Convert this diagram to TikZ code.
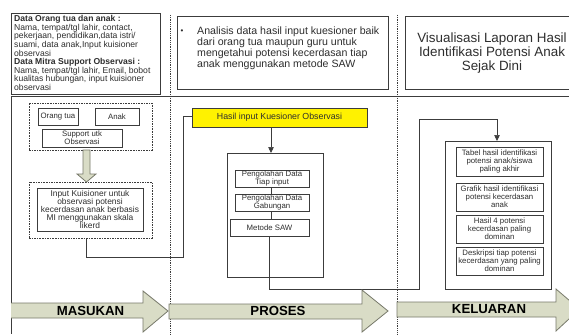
\documentclass[tikz,border=0pt]{standalone}
\usepackage{fontspec}
\setmainfont{Liberation Sans}
\usetikzlibrary{arrows.meta}
\definecolor{ln}{HTML}{3C3C3C}
\definecolor{tx}{HTML}{2E2E2E}
\definecolor{olive}{HTML}{D9DCC6}
\definecolor{oliveln}{HTML}{77796A}
\tikzset{
  bx/.style={draw=ln,line width=0.7pt,inner sep=0pt,outer sep=0pt,align=center,text=tx,font=\fontsize{7.8}{8.2}\selectfont},
  bigbx/.style={bx,font=\fontsize{8.4}{8.2}\selectfont},
  dbx/.style={bx,dash pattern=on 1.6pt off 1pt,line width=0.9pt},
  yel/.style={bx,fill=yellow,font=\fontsize{8.8}{10}\selectfont},
  conn/.style={draw=ln,line width=0.7pt},
  tipped/.style={conn,-{Triangle[length=6pt,width=5.5pt]}},
  divider/.style={draw=ln,line width=0.8pt,densely dotted},
  rule/.style={draw=ln,line width=0.7pt},
  blockarrow/.style={draw=oliveln,fill=olive,line width=0.8pt,line join=miter},
  arrlabel/.style={font=\bfseries\fontsize{13.2}{14}\selectfont,text=black,inner sep=0pt}
}
\newcommand{\pbox}[7][]{%
  \pgfmathsetmacro{\cxv}{(#3+#5)/2}\pgfmathsetmacro{\cyv}{(#4+#6)/2}%
  \pgfmathsetmacro{\wv}{#5-#3}\pgfmathsetmacro{\hv}{#6-#4}%
  \node[bx,#1,minimum width=\wv pt,minimum height=\hv pt] (#2) at (\cxv,\cyv) {#7};}
\begin{document}
\begin{tikzpicture}[x=1pt,y=-1pt]
\useasboundingbox (0,0) rectangle (569,334);
\fill[white] (0,0) rectangle (569,334);
% frame rules
\draw[rule] (11,96) -- (569,96);
\draw[rule] (11,96) -- (11,334);
\draw[divider] (170,15) -- (170,334);
\draw[divider] (397,15) -- (397,334);
% top boxes
\pbox{topa}{11}{13}{160}{94}{}
\node[anchor=north west,inner sep=0pt,text=tx,align=left,font=\fontsize{8.6}{8.65}\selectfont] (topatext) at (14,15) {\textbf{Data Orang tua dan anak :}\\Nama, tempat/tgl lahir, contact,\\pekerjaan, pendidikan,data istri/\\suami, data anak,Input kuisioner\\observasi\\\textbf{Data Mitra Support Observasi :}\\Nama, tempat/tgl lahir, Email, bobot\\kualitas hubungan, input kuisioner\\observasi};
\pbox{topb}{177}{16}{388}{89}{}
\node[inner sep=0pt,text=tx,font=\fontsize{8}{9}\selectfont] (bullet) at (182,31.5) {•};
\node[anchor=north west,inner sep=0pt,text=tx,align=left,font=\fontsize{10.6}{10.8}\selectfont] (topbtext) at (197,27) {Analisis data hasil input kuesioner baik\\dari orang tua maupun guru untuk\\mengetahui potensi kecerdasan tiap\\anak menggunakan metode SAW};
\pbox{topc}{405}{16}{572}{89}{}
\node[inner sep=0pt,text=tx,align=center,font=\fontsize{13.4}{14}\selectfont] (topctext) at (492,53.5) {Visualisasi Laporan Hasil\\Identifikasi Potensi Anak\\Sejak Dini};
% masukan
\pbox[dbx]{inA}{29}{103}{152}{150}{}
\pbox{ortu}{38}{108}{78}{125}{Orang tua}
\pbox{anak}{95}{108}{139}{125}{Anak}
\pbox{supp}{42}{129}{122}{147}{Support utk\\Observasi}
\pbox[dbx]{inB}{29}{182}{152}{238}{}
\pbox[bigbx]{kuis}{37}{188}{143}{231}{Input Kuisioner untuk\\observasi potensi\\kecerdasan anak berbasis\\MI menggunakan skala\\likerd}
\draw[blockarrow] (83,150) -- (90,150) -- (90,174) -- (96,174) -- (86.5,182) -- (77,174) -- (83,174) -- cycle;
% proses
\pbox[yel]{hasil}{192}{108}{367}{127}{Hasil input Kuesioner Observasi}
\pbox{prc}{227}{153}{323}{277}{}
\pbox{p1}{235}{170}{309}{187}{Pengolahan Data\\Tiap input}
\pbox{p2}{235}{194}{309}{211}{Pengolahan Data\\Gabungan}
\pbox{p3}{230}{219}{309}{236}{Metode SAW}
% keluaran
\pbox{out}{445}{141}{551}{289}{}
\pbox{o1}{456}{147}{543}{176}{Tabel hasil identifikasi\\potensi anak/siswa\\paling akhir}
\pbox{o2}{456}{183}{543}{211}{Grafik hasil identifikasi\\potensi kecerdasan\\anak}
\pbox{o3}{456}{215}{543}{243}{Hasil 4 potensi\\kecerdasan paling\\dominan}
\pbox{o4}{456}{247}{543}{275}{Deskripsi tiap potensi\\kecerdasan yang paling\\dominan}
% connectors
\coordinate (inBs) at (86,238);
\coordinate (hw) at (192,116);
\draw[conn] (inBs) -- (86,257) -- (183,257) -- (183,116) -- (hw);
\coordinate (hs) at (271,127);
\draw[tipped] (hs) -- (hs |- prc.north);
\draw[conn] (p1.south -| 271,0) -- (p2.north -| 271,0);
\draw[conn] (p2.south -| 271,0) -- (p3.north -| 271,0);
\coordinate (p3s) at (269,236);
\coordinate (outn) at (497,141);
\draw[tipped] (p3s) -- (269,289) -- (419,289) -- (419,119) -- (497,119) -- (outn);
% block arrows
\draw[blockarrow] (11,303) -- (143,303) -- (143,291) -- (168,311) -- (143,332) -- (143,318) -- (11,318);
\draw[blockarrow] (169,304) -- (362,304) -- (362,290) -- (388,311) -- (362,332) -- (362,319) -- (169,319) -- cycle;
\draw[blockarrow] (397,302) -- (556,302) -- (556,289) -- (570,301) -- (570,318) -- (556,331) -- (556,317) -- (397,317) -- cycle;
\node[arrlabel] (lm) at (90.5,311) {MASUKAN};
\node[arrlabel] (lp) at (278,311) {PROSES};
\node[arrlabel] (lk) at (489,309.5) {KELUARAN};
\end{tikzpicture}
\end{document}
